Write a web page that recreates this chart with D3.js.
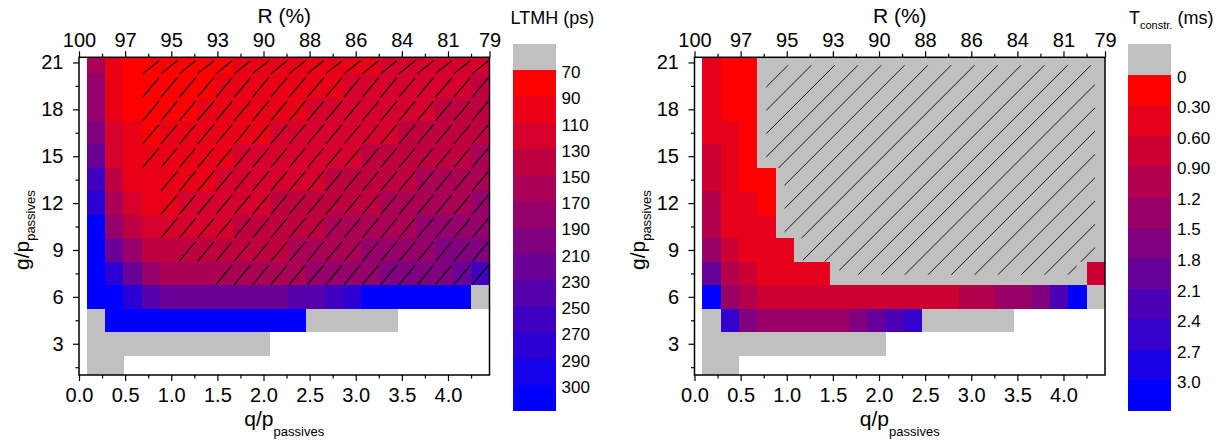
<!DOCTYPE html>
<html><head><meta charset="utf-8">
<script src="https://cdn.jsdelivr.net/npm/d3@7"></script>
<style>
body{margin:0;background:#fff}
text{font-family:"Liberation Sans",Arial,Helvetica,sans-serif;fill:#000}
</style></head>
<body><svg id="chart" width="1227" height="441"></svg>
<script>
const N = NaN, _ = null;   // N = out of range (grey), _ = no data (white)

// ---------- axes / categories ----------
const qValues = [0.2,0.4,0.6,0.8,1.0,1.2,1.4,1.6,1.8,2.0,2.2,2.4,2.6,2.8,3.0,3.2,3.4,3.6,3.8,4.0,4.2,4.4];
const gValues = [21,19.5,18,16.5,15,13.5,12,10.5,9,7.5,6,4.5,3,1.5];
const qTicks = [0,0.5,1,1.5,2,2.5,3,3.5,4];
const qMinorTicks = [0.25,0.75,1.25,1.75,2.25,2.75,3.25,3.75,4.25];
const gTicks = [3,6,9,12,15,18,21];
const gMinorTicks = [1.5,4.5,7.5,10.5,13.5,16.5,19.5];
const rTickPositions = [0,0.5,1,1.5,2,2.5,3,3.5,4,4.45];
const rTickLabels = ["100","97","95","93","90","88","86","84","81","79"];

// ---------- colour scales ----------
const ltmhThresholds = [70,90,110,130,150,170,190,210,230,250,270,290,300];
const ltmhTickLabels = ["70","90","110","130","150","170","190","210","230","250","270","290","300"];
const tThresholds = [0,0.3,0.6,0.9,1.2,1.5,1.8,2.1,2.4,2.7,3.0];
const tTickLabels = ["0","0.30","0.60","0.90","1.2","1.5","1.8","2.1","2.4","2.7","3.0"];

// ---------- LTMH (ps), rows top (g=21) to bottom (g=1.5) ----------
const ltmh = [
 [160,100,80,80,80,80,80,80,100,100,100,100,100,100,100,100,120,120,120,120,120,120],
 [180,100,80,80,80,80,80,100,100,100,100,100,100,100,120,120,120,120,120,120,120,140],
 [180,100,80,80,80,80,100,100,100,100,100,100,120,120,120,120,120,120,120,140,140,140],
 [200,120,100,80,100,100,100,100,100,100,120,120,120,120,120,120,120,140,140,140,140,140],
 [220,120,100,100,100,100,100,100,120,120,120,120,120,120,120,140,140,140,140,140,140,160],
 [260,140,100,100,100,100,100,120,120,120,120,120,120,140,140,140,140,140,160,160,160,160],
 [280,160,120,100,100,120,120,120,120,120,140,140,140,140,140,140,160,160,160,160,160,180],
 [310,180,140,120,120,120,120,120,140,140,140,140,140,160,160,160,160,160,180,180,180,180],
 [310,220,180,140,140,140,140,140,140,140,140,160,160,160,160,180,180,180,180,200,200,200],
 [310,280,220,180,160,160,160,160,160,160,160,160,180,180,180,180,200,200,200,200,220,260],
 [310,310,280,240,220,220,220,220,220,220,220,240,240,260,280,310,310,310,310,310,310,N],
 [N,310,310,310,310,310,310,310,310,310,310,310,N,N,N,N,N,_,_,_,_,_],
 [N,N,N,N,N,N,N,N,N,N,_,_,_,_,_,_,_,_,_,_,_,_],
 [N,N,_,_,_,_,_,_,_,_,_,_,_,_,_,_,_,_,_,_,_,_]
];
const ltmhHatchStart = [3,3,3,3,3,4,4,4,5,7,_,_,_,_];
const ltmhHatchEnd   = [21,21,21,21,21,21,21,21,21,21,_,_,_,_];

// ---------- T_constr (ms) ----------
const tconstr = [
 [0.45,0.15,0.15,N,N,N,N,N,N,N,N,N,N,N,N,N,N,N,N,N,N,N],
 [0.45,0.15,0.15,N,N,N,N,N,N,N,N,N,N,N,N,N,N,N,N,N,N,N],
 [0.45,0.15,0.15,N,N,N,N,N,N,N,N,N,N,N,N,N,N,N,N,N,N,N],
 [0.45,0.45,0.15,N,N,N,N,N,N,N,N,N,N,N,N,N,N,N,N,N,N,N],
 [0.75,0.45,0.15,N,N,N,N,N,N,N,N,N,N,N,N,N,N,N,N,N,N,N],
 [0.75,0.45,0.15,0.15,N,N,N,N,N,N,N,N,N,N,N,N,N,N,N,N,N,N],
 [1.05,0.45,0.45,0.15,N,N,N,N,N,N,N,N,N,N,N,N,N,N,N,N,N,N],
 [1.05,0.45,0.45,0.45,N,N,N,N,N,N,N,N,N,N,N,N,N,N,N,N,N,N],
 [1.35,0.75,0.45,0.45,0.45,N,N,N,N,N,N,N,N,N,N,N,N,N,N,N,N,N],
 [1.95,1.05,0.75,0.45,0.45,0.45,0.45,N,N,N,N,N,N,N,N,N,N,N,N,N,N,0.75],
 [3.2,1.35,1.05,0.75,0.75,0.75,0.75,0.75,0.75,0.75,0.75,0.75,0.75,0.75,1.05,1.05,1.35,1.35,1.65,2.25,3.2,N],
 [N,2.55,1.65,1.35,1.35,1.35,1.35,1.35,1.65,1.95,2.25,2.55,N,N,N,N,N,_,_,_,_,_],
 [N,N,N,N,N,N,N,N,N,N,_,_,_,_,_,_,_,_,_,_,_,_],
 [N,N,_,_,_,_,_,_,_,_,_,_,_,_,_,_,_,_,_,_,_,_]
];
const tHatchStart = [3,3,3,3,3,4,4,4,5,7,_,_,_,_];
const tHatchEnd   = [21,21,21,21,21,21,21,21,21,20,_,_,_,_];

// ---------- layout ----------
const GRAY = "#c0c0c0";
const Q_MAX = 4.45, CELL_Q0 = 0.085, G_MIN = 1, G_MAX = 21.33;
const PW = 410.5, PY0 = 57.3, PY1 = 375;
const CB_OFF = 433.5, CB_W = 43, CB_Y0 = 44, CB_Y1 = 411;
const TICK_FS = 20, CB_FS = 17;

const svg = d3.select("#chart");
const defs = svg.append("defs");

function drawPanel(o) {
  const x = d3.scaleLinear().domain([0, Q_MAX]).range([o.x0, o.x0 + PW]);
  const y = d3.scaleLinear().domain([G_MIN, G_MAX]).range([PY1, PY0]);
  const col = d3.scaleBand().domain(qValues).range([x(CELL_Q0), x(Q_MAX)]);
  const gStep = gValues[0] - gValues[1];
  const nLev = o.thresholds.length;
  const colors = d3.range(nLev).map(i => d3.interpolateRgb("#ff0000", "#0000ff")(i / (nLev - 1)));
  const color = d3.scaleThreshold().domain(o.thresholds.slice(1)).range(colors);
  const rowTop = g => Math.max(PY0, y(g + gStep / 2));
  const rowBot = g => Math.min(PY1, y(g - gStep / 2));

  defs.append("clipPath").attr("id", o.id + "-clip")
    .append("rect").attr("x", o.x0).attr("y", PY0).attr("width", PW).attr("height", PY1 - PY0);

  const cells = [];
  o.grid.forEach((row, i) => row.forEach((v, j) => { if (v !== null) cells.push({ g: gValues[i], q: qValues[j], v }); }));

  const gp = svg.append("g").attr("clip-path", `url(#${o.id}-clip)`);
  gp.append("g").attr("shape-rendering", "crispEdges")
    .selectAll("rect").data(cells).join("rect")
    .attr("x", d => col(d.q)).attr("width", col.bandwidth() + 0.3)
    .attr("y", d => rowTop(d.g)).attr("height", d => rowBot(d.g) - rowTop(d.g) + 0.3)
    .attr("fill", d => Number.isNaN(d.v) ? GRAY : color(d.v));

  // hatching
  const hcells = [];
  o.hatchStart.forEach((s, i) => { if (s === null) return; for (let j = s; j <= o.hatchEnd[i]; j++) hcells.push({ i, j }); });
  if (o.hatchStyle === "cell") {
    gp.append("g").selectAll("line").data(hcells).join("line")
      .attr("x1", d => col(qValues[d.j]) + 1).attr("y1", d => rowBot(gValues[d.i]) - 0.5)
      .attr("x2", d => col(qValues[d.j]) + col.bandwidth() - 1).attr("y2", d => rowTop(gValues[d.i]) + 3.5)
      .attr("stroke", "#000").attr("stroke-width", 1.1);
  } else {
    const rows = o.hatchStart.map((s, i) => ({ s, e: o.hatchEnd[i], i })).filter(r => r.s !== null);
    const cp = defs.append("clipPath").attr("id", o.id + "-hclip");
    rows.forEach((r, k) => {
      const g = gValues[r.i];
      const l = col(qValues[r.s]) + 9;
      const rr = Math.min(col(qValues[r.e]) + col.bandwidth(), x(Q_MAX)) - 10;
      const t = rowTop(g) + (k === 0 ? 8 : 0);
      const b = rowBot(g) - (k === rows.length - 1 ? 10.5 : 0);
      cp.append("rect").attr("x", l).attr("y", t).attr("width", rr - l).attr("height", b - t);
    });
    const H = PY1 - PY0, step = 23.3;
    const cs = d3.range(101.5 - 4 * step, PW + H, step);
    svg.append("g").attr("clip-path", `url(#${o.id}-hclip)`)
      .selectAll("line").data(cs).join("line")
      .attr("x1", c => o.x0 + c).attr("y1", PY0)
      .attr("x2", c => o.x0 + c - H).attr("y2", PY0 + H)
      .attr("stroke", "#1a1a1a").attr("stroke-width", 1);
  }

  // frame
  svg.append("rect").attr("x", o.x0).attr("y", PY0).attr("width", PW).attr("height", PY1 - PY0)
    .attr("fill", "none").attr("stroke", "#000").attr("stroke-width", 1.5);

  const styleAxis = (sel, fs) => {
    sel.select(".domain").remove();
    sel.selectAll("line").attr("stroke", "#000").attr("stroke-width", 1.2);
    sel.selectAll("text").attr("font-size", fs).attr("fill", "#000")
      .style("font-family", '"Liberation Sans",Arial,sans-serif');
  };
  // bottom
  svg.append("g").attr("transform", `translate(0,${PY1})`)
    .call(d3.axisBottom(x).tickValues(qTicks).tickFormat(d3.format(".1f")).tickSize(6).tickPadding(7))
    .call(s => styleAxis(s, TICK_FS));
  svg.append("g").attr("transform", `translate(0,${PY1})`)
    .call(d3.axisBottom(x).tickValues(qMinorTicks).tickFormat("").tickSize(3.5))
    .call(s => styleAxis(s, TICK_FS));
  // top
  svg.append("g").attr("transform", `translate(0,${PY0})`)
    .call(d3.axisTop(x).tickValues(rTickPositions).tickFormat((d, i) => rTickLabels[i]).tickSize(6).tickPadding(4.5))
    .call(s => styleAxis(s, TICK_FS));
  svg.append("g").attr("transform", `translate(0,${PY0})`)
    .call(d3.axisTop(x).tickValues(qMinorTicks).tickFormat("").tickSize(3.5))
    .call(s => styleAxis(s, TICK_FS));
  // left
  svg.append("g").attr("transform", `translate(${o.x0},0)`)
    .call(d3.axisLeft(y).tickValues(gTicks).tickSize(6).tickPadding(9.5))
    .call(s => styleAxis(s, TICK_FS));
  svg.append("g").attr("transform", `translate(${o.x0},0)`)
    .call(d3.axisLeft(y).tickValues(gMinorTicks).tickFormat("").tickSize(3.5))
    .call(s => styleAxis(s, TICK_FS));

  // axis titles
  svg.append("text").attr("x", o.x0 + PW / 2).attr("y", 23).attr("text-anchor", "middle")
    .attr("font-size", 21).text("R (%)");
  const xl = svg.append("text").attr("x", o.x0 + PW / 2).attr("y", 425.5).attr("text-anchor", "middle").attr("font-size", 21);
  xl.append("tspan").text("q/p");
  xl.append("tspan").attr("font-size", 13).attr("dy", 10).text("passives");
  const yl = svg.append("text").attr("transform", `translate(${o.x0 - 50},${(PY0 + PY1) / 2 + 14}) rotate(-90)`)
    .attr("text-anchor", "middle").attr("font-size", 21);
  yl.append("tspan").text("g/p");
  yl.append("tspan").attr("font-size", 13).attr("dy", 6).text("passives");

  // colour bar
  const cbx = o.x0 + CB_OFF;
  const segs = [GRAY].concat(colors);
  const segH = (CB_Y1 - CB_Y0) / segs.length;
  const cb = svg.append("g").attr("shape-rendering", "crispEdges");
  cb.selectAll("rect").data(segs).join("rect")
    .attr("x", cbx).attr("width", CB_W)
    .attr("y", (d, i) => CB_Y0 + i * segH).attr("height", segH + 0.4)
    .attr("fill", d => d);
  svg.append("g").selectAll("text").data(o.cbLabels).join("text")
    .attr("x", cbx + CB_W + 6).attr("y", (d, i) => CB_Y0 + (i + 1) * segH + 2)
    .attr("dy", "0.35em").attr("font-size", CB_FS).text(d => d);
  o.cbTitle(cbx);
}

drawPanel({
  id: "ltmh", x0: 79, grid: ltmh, thresholds: ltmhThresholds, cbLabels: ltmhTickLabels,
  hatchStart: ltmhHatchStart, hatchEnd: ltmhHatchEnd, hatchStyle: "cell",
  cbTitle: cbx => svg.append("text").attr("x", cbx - 2).attr("y", 24).attr("font-size", 18).text("LTMH (ps)")
});
drawPanel({
  id: "tcon", x0: 694.5, grid: tconstr, thresholds: tThresholds, cbLabels: tTickLabels,
  hatchStart: tHatchStart, hatchEnd: tHatchEnd, hatchStyle: "lines",
  cbTitle: cbx => {
    const t = svg.append("text").attr("x", cbx + 1).attr("y", 24).attr("font-size", 18);
    t.append("tspan").text("T");
    t.append("tspan").attr("font-size", 11).attr("dy", 5).text("constr.");
    t.append("tspan").attr("dy", -5).text(" (ms)");
  }
});
</script>
</body></html>
